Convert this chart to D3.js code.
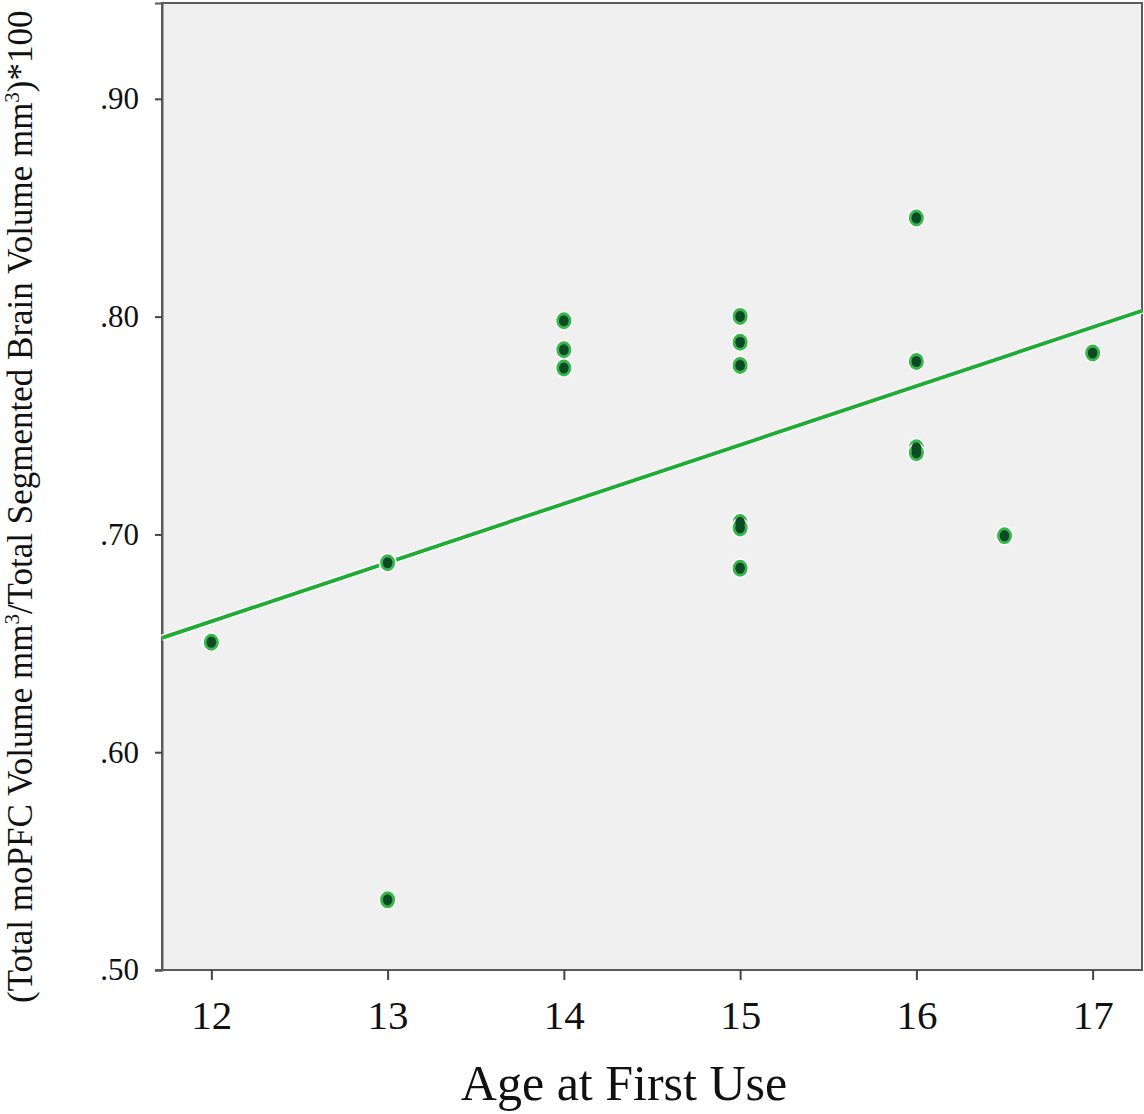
<!DOCTYPE html>
<html>
<head>
<meta charset="utf-8">
<script src="https://cdn.jsdelivr.net/npm/d3@7"></script>
<style>
  html, body { margin: 0; padding: 0; background: #ffffff; }
  svg { display: block; }
  text { font-family: "Liberation Serif", "Times New Roman", serif; fill: #111; }
</style>
</head>
<body>
<svg id="chart" width="1144" height="1114"></svg>
<script>
// ---- data ----
const ageAtFirstUse = [12, 13, 13, 14, 14, 14, 15, 15, 15, 15, 15, 15, 16, 16, 16, 16, 16.5, 17];
const volumeRatio   = [0.6505, 0.687, 0.5322, 0.7981, 0.7848, 0.7764, 0.8001, 0.7882, 0.7776, 0.7055, 0.7030, 0.6845, 0.8453, 0.7794, 0.7398, 0.7375, 0.6994, 0.7833];
const fitLineX = [11.72, 17.28];
const fitLineY = [0.6525, 0.8027];
const xTicks = [12, 13, 14, 15, 16, 17];
const yTicks = [0.5, 0.6, 0.7, 0.8, 0.9];
const yTickLabels = [".50", ".60", ".70", ".80", ".90"];

const W = 1144, H = 1114;
const m = { left: 162, top: 3, right: 2, bottom: 144 };
const pw = W - m.left - m.right, ph = H - m.top - m.bottom;

const svg = d3.select("#chart");
const x = d3.scaleLinear().domain([11.72, 17.28]).range([m.left, m.left + pw]);
const y = d3.scaleLinear().domain([0.5, 0.944]).range([m.top + ph, m.top]);

// plot background
svg.append("rect")
  .attr("x", m.left).attr("y", m.top).attr("width", pw).attr("height", ph)
  .attr("fill", "#f0f0f0").attr("stroke", "#5a5a5a").attr("stroke-width", 2);

// axes
const yAxis = d3.axisLeft(y).tickValues(yTicks).tickFormat((d, i) => yTickLabels[i]).tickSize(7).tickPadding(16);
const gy = svg.append("g").attr("transform", `translate(${m.left},0)`).call(yAxis);
gy.select(".domain").attr("stroke", "#5a5a5a").attr("stroke-width", 2);
gy.selectAll(".tick line").attr("stroke", "#444").attr("stroke-width", 2);
gy.selectAll(".tick text").style("font-family", "Liberation Serif, serif").style("font-size", "31px").attr("fill", "#111");

const xAxis = d3.axisBottom(x).tickValues(xTicks).tickFormat(d3.format("d")).tickSize(10).tickPadding(20);
const gx = svg.append("g").attr("transform", `translate(0,${m.top + ph})`).call(xAxis);
gx.select(".domain").attr("stroke", "#5a5a5a").attr("stroke-width", 2)
  .attr("d", `M${m.left - 7},0H${m.left + pw}`);
gx.selectAll(".tick line").attr("stroke", "#444").attr("stroke-width", 2);
gx.selectAll(".tick text").style("font-family", "Liberation Serif, serif").style("font-size", "41px").attr("fill", "#111");

// fit line
const line = d3.line().x(d => x(d[0])).y(d => y(d[1]));
const fitPts = fitLineX.map((v, i) => [v, fitLineY[i]]);
svg.append("path").datum(fitPts).attr("d", line)
  .attr("fill", "none").attr("stroke", "#ffffff").attr("stroke-width", 6.5);
svg.append("path").datum(fitPts).attr("d", line)
  .attr("fill", "none").attr("stroke", "#20aa36").attr("stroke-width", 3.8);

// points
const pts = ageAtFirstUse.map((v, i) => [v, volumeRatio[i]]);
const g = svg.append("g");
g.selectAll("ellipse.outer").data(pts).join("ellipse").attr("class", "outer")
  .attr("cx", d => x(d[0])).attr("cy", d => y(d[1]))
  .attr("rx", 8.3).attr("ry", 9.3)
  .attr("fill", "#38b84a").attr("stroke", "#ffffff").attr("stroke-width", 1.6);
g.selectAll("ellipse.inner").data(pts).join("ellipse").attr("class", "inner")
  .attr("cx", d => x(d[0])).attr("cy", d => y(d[1]))
  .attr("rx", 4.8).attr("ry", 5.6)
  .attr("fill", "#0b4a25");

// axis titles
svg.append("text")
  .attr("x", 624).attr("y", 1100)
  .attr("text-anchor", "middle").style("font-size", "50px")
  .text("Age at First Use");

const yl = svg.append("text")
  .attr("transform", "translate(32,1003) rotate(-90)")
  .attr("text-anchor", "start").style("font-size", "35px");
yl.append("tspan").text("(Total moPFC Volume mm");
yl.append("tspan").attr("dy", -13).style("font-size", "21px").text("3");
yl.append("tspan").attr("dy", 13).text("/Total Segmented Brain Volume mm");
yl.append("tspan").attr("dy", -13).style("font-size", "21px").text("3");
yl.append("tspan").attr("dy", 13).text(")*100");
</script>
</body>
</html>
